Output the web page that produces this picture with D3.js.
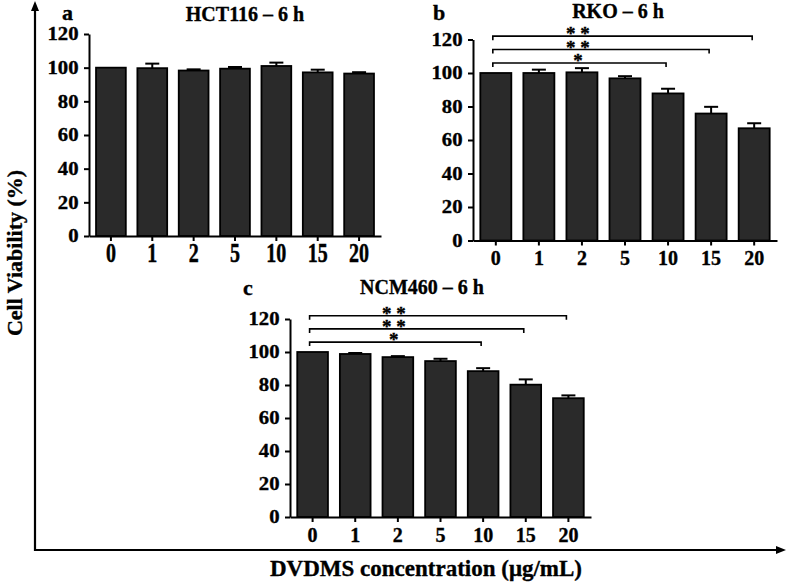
<!DOCTYPE html>
<html>
<head>
<meta charset="utf-8">
<script src="https://cdn.jsdelivr.net/npm/d3@7"></script>
<style>
  html, body { margin: 0; padding: 0; background: #fff; }
  svg text { font-family: "Liberation Serif", "Times New Roman", serif; font-weight: bold; fill: #000; stroke: #000; stroke-width: 0.35px; }
</style>
</head>
<body>
<svg id="chart" width="787" height="583"></svg>
<script>
// ---- Data ----
const categories = ["0", "1", "2", "5", "10", "15", "20"];
const yTicks = [0, 20, 40, 60, 80, 100, 120];

const hctValues = [100, 99.7, 98.3, 99.4, 101, 97.2, 96.5];
const hctErrors = [0, 2.7, 0.7, 1.0, 2.0, 1.6, 0.8];

const rkoValues = [100, 100, 100.4, 96.8, 87.8, 75.8, 67];
const rkoErrors = [0, 2.0, 2.5, 1.3, 2.8, 4.0, 3.0];

const ncmValues = [100, 98.8, 96.9, 94.5, 88.4, 80.2, 72];
const ncmErrors = [0, 0.6, 0.6, 1.4, 1.8, 3.2, 1.7];

const panelLetters = ["a", "b", "c"];
const panelTitles = ["HCT116 – 6 h", "RKO – 6 h", "NCM460 – 6 h"];

const sigTargets = ["10", "15", "20"];
const sigLabels = ["*", "* *", "* *"];

const yAxisTitle = "Cell Viability (%)";
const xAxisTitle = "DVDMS concentration (μg/mL)";

// ---- Layout ----
const panels = [
  { values: hctValues, errors: hctErrors, axisX: 89, axisEnd: 381, yTop: 34, yBottom: 236,
    letter: [62, 19.6], title: [245, 21], xLabelDy: 25.7, xLabelScaleY: 1.4, sig: false },
  { values: rkoValues, errors: rkoErrors, axisX: 473, axisEnd: 777, yTop: 39.5, yBottom: 240.5,
    letter: [433, 19.6], title: [618, 18], xLabelDy: 24.5, xLabelScaleY: 1.0, sig: true },
  { values: ncmValues, errors: ncmErrors, axisX: 290, axisEnd: 591, yTop: 319, yBottom: 517,
    letter: [243, 295], title: [422, 293.5], xLabelDy: 24.5, xLabelScaleY: 1.0, sig: true }
];
const sigLevels = [106, 114, 122];

const svg = d3.select("#chart");

panels.forEach((p, i) => {
  const g = svg.append("g");
  const x = d3.scaleBand().domain(categories).range([p.axisX, p.axisEnd])
    .paddingInner(0.28).paddingOuter(0.17);
  const y = d3.scaleLinear().domain([0, 120]).range([p.yBottom, p.yTop]);

  // y axis (ticks from axis generator, labels drawn separately to widen them)
  const ya = g.append("g").attr("transform", `translate(${p.axisX},0)`)
    .call(d3.axisLeft(y).tickValues(yTicks).tickSize(5).tickSizeOuter(0));
  ya.select(".domain").attr("stroke", "#000").attr("stroke-width", 2);
  ya.selectAll(".tick line").attr("stroke", "#000").attr("stroke-width", 2);
  ya.selectAll(".tick text").remove();
  yTicks.forEach(t => {
    g.append("text")
      .attr("transform", `translate(${p.axisX - 10.5},${y(t) + 6.2}) scale(1.15,1)`)
      .attr("text-anchor", "end").style("font-size", "18px").text(t);
  });

  // bars
  g.selectAll("rect.bar").data(categories).enter().append("rect")
    .attr("x", c => x(c)).attr("width", x.bandwidth())
    .attr("y", (c, k) => y(p.values[k]))
    .attr("height", (c, k) => y(0) - y(p.values[k]))
    .attr("fill", "#2a2a2a").attr("stroke", "#000").attr("stroke-width", 1.8);

  // error bars
  categories.forEach((c, k) => {
    if (p.errors[k] <= 0) return;
    const cx = x(c) + x.bandwidth() / 2;
    const yt = y(p.values[k] + p.errors[k]);
    g.append("line").attr("x1", cx).attr("x2", cx).attr("y1", y(p.values[k])).attr("y2", yt)
      .attr("stroke", "#000").attr("stroke-width", 2);
    g.append("line").attr("x1", cx - 7).attr("x2", cx + 7).attr("y1", yt).attr("y2", yt)
      .attr("stroke", "#000").attr("stroke-width", 2);
  });

  // x axis
  const xa = g.append("g").attr("transform", `translate(0,${p.yBottom})`)
    .call(d3.axisBottom(x).tickSize(5).tickSizeOuter(0));
  xa.select(".domain").attr("stroke", "#000").attr("stroke-width", 2);
  xa.selectAll(".tick line").attr("stroke", "#000").attr("stroke-width", 2);
  xa.selectAll(".tick text").remove();
  categories.forEach(c => {
    const cx = x(c) + x.bandwidth() / 2;
    g.append("text")
      .attr("transform", `translate(${cx},${p.yBottom + p.xLabelDy}) scale(1,${p.xLabelScaleY})`)
      .attr("text-anchor", "middle").style("font-size", "20px").text(c);
  });

  // letter & title
  g.append("text").attr("x", p.letter[0]).attr("y", p.letter[1]).style("font-size", "22px").text(panelLetters[i]);
  g.append("text").attr("x", p.title[0]).attr("y", p.title[1]).attr("text-anchor", "middle")
    .style("font-size", "20px").text(panelTitles[i]);

  // significance brackets
  if (p.sig) {
    const c0 = x(categories[0]) + x.bandwidth() / 2;
    const starX = (c0 + x("10") + x.bandwidth() / 2) / 2 - 4;
    const stars = g.append("text").attr("text-anchor", "middle").style("font-size", "19px");
    sigTargets.forEach((t, k) => {
      const x1 = x(t) + x.bandwidth() / 2;
      const yy = y(sigLevels[k]);
      g.append("path").attr("d", `M${c0 - 3},${yy + 4}V${yy}H${x1 - 2}V${yy + 4}`)
        .attr("fill", "none").attr("stroke", "#000").attr("stroke-width", 1.6);
      stars.append("tspan").attr("x", starX).attr("y", yy + 4).text(sigLabels[k]);
    });
  }
});

// ---- Main axes with arrows ----
const ox = 35, oy = 550;
svg.append("line").attr("x1", ox).attr("y1", oy + 1).attr("x2", ox).attr("y2", 8)
  .attr("stroke", "#000").attr("stroke-width", 2.2);
svg.append("path").attr("d", `M${ox},1 L${ox - 4},11 L${ox + 4},11 Z`).attr("fill", "#000");
svg.append("line").attr("x1", ox - 1).attr("y1", oy).attr("x2", 778).attr("y2", oy)
  .attr("stroke", "#000").attr("stroke-width", 2.2);
svg.append("path").attr("d", `M786,${oy} L776,${oy - 4} L776,${oy + 4} Z`).attr("fill", "#000");

svg.append("text").attr("transform", "translate(22,253) rotate(-90)").attr("text-anchor", "middle")
  .style("font-size", "22px").text(yAxisTitle);
svg.append("text").attr("x", 426).attr("y", 576).attr("text-anchor", "middle")
  .style("font-size", "23px").text(xAxisTitle);
</script>
</body>
</html>
